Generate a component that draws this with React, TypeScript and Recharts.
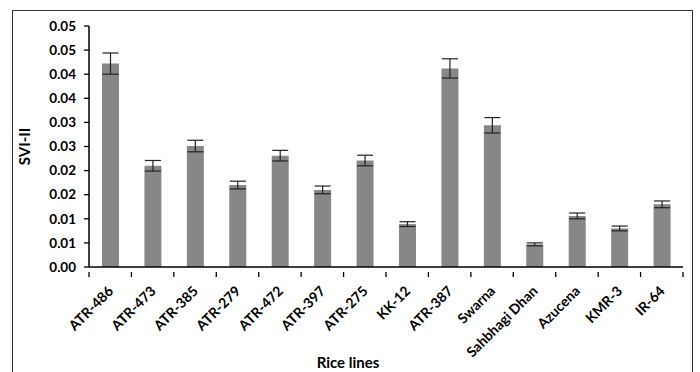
import React from 'react';
import { BarChart, Bar, XAxis, YAxis, ErrorBar } from 'recharts';

const categories = [
  'ATR-486', 'ATR-473', 'ATR-385', 'ATR-279', 'ATR-472', 'ATR-397', 'ATR-275',
  'KK-12', 'ATR-387', 'Swarna', 'Sahbhagi Dhan', 'Azucena', 'KMR-3', 'IR-64',
];
const sviValues = [
  0.0422, 0.021, 0.0251, 0.017, 0.0231, 0.016, 0.0221,
  0.0089, 0.0412, 0.0294, 0.0047, 0.0106, 0.008, 0.013,
];
const sviErrors = [
  0.0022, 0.0011, 0.0012, 0.0008, 0.0011, 0.0008, 0.0011,
  0.0005, 0.002, 0.0016, 0.0003, 0.0006, 0.0005, 0.0007,
];
const yTicks = [0, 0.005, 0.01, 0.015, 0.02, 0.025, 0.03, 0.035, 0.04, 0.045, 0.05];
const yTickLabels = ['0.00', '0.01', '0.01', '0.02', '0.02', '0.03', '0.03', '0.04', '0.04', '0.05', '0.05'];

const data = categories.map((name, i) => ({ name, value: sviValues[i], err: sviErrors[i] }));

const W = 700;
const H = 372;
const margin = { top: 26, right: 17, bottom: 0, left: 29 };
const yAxisWidth = 60;
const xAxisHeight = 105;
const plotWidth = W - margin.left - margin.right - yAxisWidth;
const band = plotWidth / categories.length;
const font = 'Lato, "Open Sans", sans-serif';

function CategoryTick(props: any) {
  const { x, y, payload, index } = props;
  const last = index === categories.length - 1;
  const tx = x + 4;
  const ty = y + 17;
  return (
    <g>
      <line x1={x - band / 2} y1={y - 3} x2={x - band / 2} y2={y + 2} stroke="#000" strokeWidth={1.3} />
      {last && <line x1={x + band / 2} y1={y - 3} x2={x + band / 2} y2={y + 2} stroke="#000" strokeWidth={1.3} />}
      <text
        x={tx}
        y={ty}
        transform={`rotate(-45, ${tx}, ${ty})`}
        textAnchor="end"
        fontFamily={font}
        fontWeight={700}
        fontSize={14}
        fill="#000"
      >
        {payload.value}
      </text>
    </g>
  );
}

export default function App() {
  return (
    <div style={{ position: 'absolute', left: 0, top: 0, width: W, height: H, background: '#fff', overflow: 'hidden' }}>
      <div
        style={{
          position: 'absolute',
          left: 12,
          top: 10,
          width: 681,
          height: H,
          border: '1.5px solid #333',
          boxSizing: 'border-box',
        }}
      />
      <BarChart width={W} height={H} data={data} margin={margin}>
        <XAxis
          dataKey="name"
          interval={0}
          tickLine={false}
          tick={<CategoryTick />}
          height={xAxisHeight}
          axisLine={{ stroke: '#000', strokeWidth: 1.5 }}
          label={{
            value: 'Rice lines',
            position: 'insideBottom',
            offset: 4,
            dx: -38,
            fontFamily: font,
            fontWeight: 700,
            fontSize: 15,
            fill: '#000',
          }}
        />
        <YAxis
          width={yAxisWidth}
          domain={[0, 0.05]}
          ticks={yTicks}
          interval={0}
          tickFormatter={(v: number) => yTickLabels[yTicks.indexOf(v)] ?? ''}
          tickSize={5}
          tickMargin={8}
          tick={{ fontFamily: font, fontWeight: 700, fontSize: 13.5, fill: '#000' }}
          tickLine={{ stroke: '#000', strokeWidth: 1.3 }}
          axisLine={{ stroke: '#000', strokeWidth: 1.5 }}
          label={{
            value: 'SVI-II',
            angle: -90,
            position: 'insideLeft',
            dx: -9,
            style: { textAnchor: 'middle' },
            fontFamily: font,
            fontWeight: 700,
            fontSize: 15,
            fill: '#000',
          }}
        />
        <Bar dataKey="value" fill="#878787" barSize={17} isAnimationActive={false}>
          <ErrorBar dataKey="err" width={8} stroke="#222" strokeWidth={1.2} direction="y" />
        </Bar>
      </BarChart>
    </div>
  );
}
